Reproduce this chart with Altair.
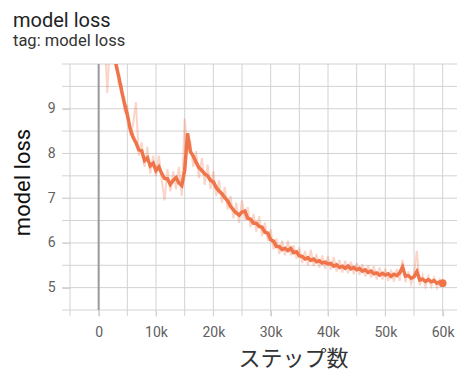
import altair as alt
import pandas as pd

steps = [1000, 1500, 2000, 2500, 3000, 3500, 4000, 4500, 5000, 5500,
         6000, 6500, 7000, 7500, 8000, 8500, 9000, 9500, 10000, 10500,
         11000, 11500, 12000, 12500, 13000, 13500, 14000, 14500, 15000, 15500,
         16000, 16500, 17000, 17500, 18000, 18500, 19000, 19500, 20000, 20500,
         21000, 21500, 22000, 22500, 23000, 23500, 24000, 24500, 25000, 25500,
         26000, 26500, 27000, 27500, 28000, 28500, 29000, 29500, 30000, 30500,
         31000, 31500, 32000, 32500, 33000, 33500, 34000, 34500, 35000, 35500,
         36000, 36500, 37000, 37500, 38000, 38500, 39000, 39500, 40000, 40500,
         41000, 41500, 42000, 42500, 43000, 43500, 44000, 44500, 45000, 45500,
         46000, 46500, 47000, 47500, 48000, 48500, 49000, 49500, 50000, 50500,
         51000, 51500, 52000, 52500, 53000, 53500, 54000, 54500, 55000, 55500,
         56000, 56500, 57000, 57500, 58000, 58500, 59000, 59500, 60000]

raw = [10.8, 9.35, 10.6, 10.2, 10.3, 9.55, 9.55, 8.95, 9.05, 8.40,
       8.65, 9.15, 7.95, 8.25, 7.70, 8.15, 7.55, 7.95, 7.50, 7.95,
       7.40, 6.95, 7.65, 7.15, 7.60, 7.20, 7.70, 7.05, 8.78, 8.10,
       8.25, 7.70, 8.05, 7.45, 7.90, 7.30, 7.75, 7.20, 7.60, 7.05,
       7.40, 6.90, 7.25, 6.75, 7.05, 6.55, 6.90, 6.45, 6.95, 6.50,
       6.80, 6.35, 6.65, 6.25, 6.60, 6.15, 6.45, 6.05, 6.30, 5.85,
       6.10, 5.75, 6.05, 5.72, 6.05, 5.72, 5.95, 5.65, 5.90, 5.55,
       5.82, 5.50, 5.85, 5.48, 5.75, 5.45, 5.72, 5.42, 5.70, 5.40,
       5.68, 5.36, 5.62, 5.34, 5.60, 5.32, 5.58, 5.30, 5.55, 5.28,
       5.52, 5.25, 5.50, 5.22, 5.48, 5.18, 5.45, 5.18, 5.42, 5.15,
       5.40, 5.13, 5.42, 5.15, 5.62, 5.12, 5.36, 5.08, 5.30, 5.82,
       5.05, 5.28, 5.02, 5.25, 5.03, 5.22, 5.00, 5.18, 5.08]

smooth = [10.9, 10.6, 10.5, 10.3, 10.0, 9.72, 9.40, 9.12, 8.86, 8.55,
          8.36, 8.24, 8.08, 8.06, 7.84, 7.90, 7.72, 7.78, 7.62, 7.70,
          7.55, 7.44, 7.43, 7.31, 7.40, 7.46, 7.34, 7.28, 7.62, 8.45,
          8.04, 7.94, 7.80, 7.68, 7.62, 7.54, 7.50, 7.40, 7.36, 7.24,
          7.16, 7.10, 7.01, 6.94, 6.82, 6.74, 6.67, 6.62, 6.69, 6.71,
          6.55, 6.53, 6.44, 6.44, 6.37, 6.35, 6.24, 6.22, 6.07, 6.04,
          5.92, 5.92, 5.85, 5.88, 5.83, 5.88, 5.78, 5.80, 5.71, 5.70,
          5.64, 5.67, 5.61, 5.64, 5.58, 5.60, 5.55, 5.57, 5.53, 5.54,
          5.48, 5.51, 5.45, 5.48, 5.43, 5.48, 5.42, 5.45, 5.40, 5.43,
          5.37, 5.40, 5.34, 5.37, 5.31, 5.33, 5.28, 5.32, 5.28, 5.31,
          5.25, 5.30, 5.27, 5.33, 5.46, 5.26, 5.27, 5.21, 5.24, 5.36,
          5.17, 5.19, 5.14, 5.18, 5.13, 5.16, 5.10, 5.13, 5.10]

x_grid = [-5000, 0, 5000, 10000, 15000, 20000, 25000, 30000, 35000,
          40000, 45000, 50000, 55000, 60000]
y_grid = [4.5, 5, 5.5, 6, 6.5, 7, 7.5, 8, 8.5, 9, 9.5, 10]
x_labels = [0, 10000, 20000, 30000, 40000, 50000, 60000]
y_labels = [5, 6, 7, 8, 9]

W, H = 387, 246
df = pd.DataFrame({"step": steps, "raw": raw, "smooth": smooth})
last = df.tail(1)
zero = pd.DataFrame({"step": [0]})
xg = pd.DataFrame({"step": x_grid})
yg = pd.DataFrame({"loss": y_grid})

ORANGE = "#ef7449"
GRID = "#d2d2d2"
FONT = "Roboto"
JFONT = "Noto Sans CJK JP"

xscale = alt.Scale(domain=[-5000, 62500], nice=False, zero=False)
yscale = alt.Scale(domain=[4.5, 10], nice=False, zero=False)

xaxis = alt.Axis(
    values=x_labels, grid=False, domain=False,
    labelExpr="datum.value == 0 ? '0' : (datum.value / 1000) + 'k'",
    tickColor=GRID, tickSize=6, labelPadding=9,
    labelFontSize=14, labelColor="#616161", labelFont=FONT,
    title="ステップ数", titleFont=JFONT, titleFontSize=22, titleFontWeight="normal",
    titleColor="#333333", titleX=223, titleY=55, titleAlign="center",
    titleBaseline="alphabetic",
)
yaxis = alt.Axis(
    values=y_labels, grid=False, domain=False,
    tickColor=GRID, tickSize=8, labelPadding=7,
    labelFontSize=14, labelColor="#616161", labelFont=FONT,
    title="model loss", titleFont=FONT, titleFontSize=22, titleFontWeight="normal",
    titleColor="#111111", titleX=-41, titleY=118, titleAlign="center",
    titleBaseline="alphabetic", titleAngle=270,
)

X = alt.X("step:Q", scale=xscale, axis=xaxis, title="ステップ数")

vgrid = alt.Chart(xg).mark_rule(color=GRID, strokeWidth=1).encode(
    x=X,
    y=alt.value(0),
    y2=alt.value(H + 6),
)
hgrid = alt.Chart(yg).mark_rule(color=GRID, strokeWidth=1).encode(
    y=alt.Y("loss:Q", scale=yscale, axis=yaxis, title="model loss"),
    x=alt.value(-8),
    x2=alt.value(W),
)
zero_rule = alt.Chart(zero).mark_rule(color="#9a9a9a", strokeWidth=2).encode(
    x=X,
)
raw_line = alt.Chart(df).mark_line(color=ORANGE, opacity=0.3, strokeWidth=2, clip=True).encode(
    x=X,
    y=alt.Y("raw:Q", scale=yscale, axis=yaxis, title="model loss"),
)
smooth_line = alt.Chart(df).mark_line(color=ORANGE, strokeWidth=3.5, clip=True).encode(
    x=X,
    y=alt.Y("smooth:Q", scale=yscale, axis=yaxis, title="model loss"),
)
end_dot = alt.Chart(last).mark_circle(color=ORANGE, size=60, opacity=1, clip=True).encode(
    x=X,
    y=alt.Y("smooth:Q", scale=yscale, axis=yaxis, title="model loss"),
)

chart = alt.layer(vgrid, hgrid, zero_rule, raw_line, smooth_line, end_dot).properties(
    width=W, height=H,
    autosize=alt.AutoSizeParams(type="none"),
    padding={"left": 62, "top": 56, "right": 0, "bottom": 60},
    title=alt.TitleParams(
        text="model loss", subtitle="tag: model loss",
        anchor="start", frame="group", dx=-57, offset=14,
        font=FONT, fontSize=20, fontWeight="normal", color="#222222",
        subtitleFont=FONT, subtitleFontSize=16.5, subtitleColor="#333333",
        subtitlePadding=2,
    ),
).configure_view(stroke=None)

chart.save("out.html", embed_options={"renderer": "svg", "actions": False})
